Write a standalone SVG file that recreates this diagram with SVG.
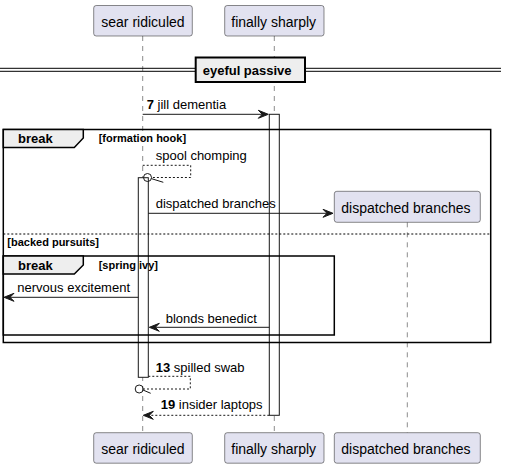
<svg xmlns="http://www.w3.org/2000/svg" width="506" height="468" viewBox="0 0 506 468">
<style>
.part rect{fill:#E2E2F0;stroke:#181818;stroke-width:0.5}
.part text{font-family:"Liberation Sans",Arial,sans-serif;font-size:14px;fill:#000}
.life{stroke:#181818;stroke-width:0.5;stroke-dasharray:5,5;fill:none}
.act{fill:#FFFFFF;stroke:#181818;stroke-width:1}
.msg{stroke:#181818;stroke-width:1;fill:none}
.dash{stroke-dasharray:2,2}
.head{fill:#181818;stroke:#181818;stroke-width:1}
.lbl{font-family:"Liberation Sans",Arial,sans-serif;font-size:13px;fill:#000}
.b{font-weight:bold}
.frame{fill:none;stroke:#000;stroke-width:1.5}
.tab{fill:#EEEEEE;stroke:#000;stroke-width:1.5}
.glbl{font-family:"Liberation Sans",Arial,sans-serif;font-size:13px;font-weight:bold;fill:#000}
.gcond{font-family:"Liberation Sans",Arial,sans-serif;font-size:11px;font-weight:bold;fill:#000}
</style>
<g id="lifelines">
<line class="life" x1="142.7" y1="36" x2="142.7" y2="432.7"/>
<line class="life" x1="274.3" y1="36" x2="274.3" y2="432.7"/>
<line class="life" x1="407.3" y1="222.3" x2="407.3" y2="432.7"/>
</g>
<g id="divider">
<line x1="0" y1="68.3" x2="501" y2="68.3" stroke="#000" stroke-width="1"/>
<line x1="0" y1="71.3" x2="501" y2="71.3" stroke="#000" stroke-width="1"/>
<rect x="195.7" y="57.5" width="109.3" height="24.5" fill="#EEEEEE" stroke="#000" stroke-width="2"/>
<text class="glbl" x="202.7" y="75">eyeful passive</text>
</g>
<g id="activations">
<rect class="act" x="138.3" y="177.7" width="10" height="199.6"/>
<rect class="act" x="269.3" y="114.3" width="10" height="301"/>
</g>
<g id="break1">
<rect class="frame" x="3.3" y="129.5" width="487.4" height="213"/>
<polygon class="tab" points="3.3,129.5 83.3,129.5 83.3,138 74.3,147.5 3.3,147.5"/>
<text class="glbl" x="18" y="143">break</text>
<text class="gcond" x="98.7" y="142.3">[formation hook]</text>
<line x1="3.3" y1="234" x2="490.7" y2="234" stroke="#000" stroke-width="1" stroke-dasharray="2,2"/>
<text class="gcond" x="7.3" y="245.7">[backed pursuits]</text>
</g>
<g id="break2">
<rect class="frame" x="3.3" y="256" width="331" height="79"/>
<polygon class="tab" points="3.3,256 83.3,256 83.3,265 74.3,274 3.3,274"/>
<text class="glbl" x="18" y="270">break</text>
<text class="gcond" x="98.7" y="269">[spring ivy]</text>
</g>
<g id="participants">
<g id="p-sear-top" class="part"><rect x="93.7" y="5.5" width="98.6" height="30.5" rx="2.5"/><text x="101.3" y="27">sear ridiculed</text></g>
<g id="p-finally-top" class="part"><rect x="224.7" y="5.5" width="99.3" height="30.5" rx="2.5"/><text x="231.3" y="27">finally sharply</text></g>
<g id="p-dispatched" class="part"><rect x="334.3" y="191.3" width="146" height="31" rx="2.5"/><text x="341.3" y="213">dispatched branches</text></g>
<g id="p-sear-bottom" class="part"><rect x="93.7" y="432.7" width="98.6" height="30.5" rx="2.5"/><text x="101.3" y="454.3">sear ridiculed</text></g>
<g id="p-finally-bottom" class="part"><rect x="224.7" y="432.7" width="99.3" height="30.5" rx="2.5"/><text x="231.3" y="454.3">finally sharply</text></g>
<g id="p-dispatched-bottom" class="part"><rect x="334.3" y="432.7" width="146" height="30.5" rx="2.5"/><text x="341.3" y="454.3">dispatched branches</text></g>
</g>
<g id="connectors">
<line class="msg" x1="142.7" y1="114.3" x2="266" y2="114.3"/>
<polygon class="head" points="258.3,110.3 268.3,114.3 258.3,118.3 262.3,114.3"/>
<text class="lbl" x="146.7" y="109"><tspan class="b">7</tspan> jill dementia</text>

<path class="msg dash" d="M142.7,165.3 H190.7 V177.5 H151.5"/>
<circle cx="147.5" cy="177.5" r="4" fill="none" stroke="#181818" stroke-width="1"/>
<line class="msg" x1="151.3" y1="178.6" x2="163.3" y2="182.3"/>
<text class="lbl" x="155.7" y="160">spool chomping</text>

<line class="msg" x1="148.3" y1="213.3" x2="331" y2="213.3"/>
<polygon class="head" points="323,209.3 333,213.3 323,217.3 327,213.3"/>
<text class="lbl" x="155.7" y="208.3">dispatched branches</text>

<line class="msg" x1="138.3" y1="297.3" x2="6" y2="297.3"/>
<polygon class="head" points="14,293.3 4,297.3 14,301.3 10,297.3"/>
<text class="lbl" x="17.3" y="291.7">nervous excitement</text>

<line class="msg" x1="269.3" y1="327.3" x2="151" y2="327.3"/>
<polygon class="head" points="159.3,323.3 149.3,327.3 159.3,331.3 155.3,327.3"/>
<text class="lbl" x="165.7" y="322.7">blonds benedict</text>

<path class="msg dash" d="M148.3,376.3 H190.3 V389 H143.2"/>
<circle cx="139.2" cy="389" r="4" fill="none" stroke="#181818" stroke-width="1"/>
<line class="msg" x1="143" y1="390" x2="150.7" y2="393.3"/>
<text class="lbl" x="155.7" y="371.7"><tspan class="b">13</tspan> spilled swab</text>

<line class="msg dash" x1="269.3" y1="415.3" x2="145" y2="415.3"/>
<polygon class="head" points="153.3,411.3 143.3,415.3 153.3,419.3 149.3,415.3"/>
<text class="lbl" x="160.7" y="409.3"><tspan class="b">19</tspan> insider laptops</text>
</g>
</svg>
